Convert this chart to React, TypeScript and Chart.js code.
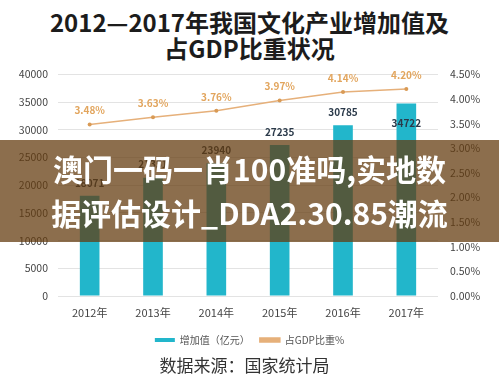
import React, { useEffect, useRef } from "react";
import { Chart, registerables } from "chart.js";

Chart.register(...registerables);

const years = ["2012年", "2013年", "2014年", "2015年", "2016年", "2017年"];
const addedValue = [18071, 21351, 23940, 27235, 30785, 34722];
const gdpShare = [3.48, 3.63, 3.76, 3.97, 4.14, 4.2];
const seriesNames = ["增加值（亿元）", "占GDP比重%"];
const titleLines = ["2012—2017年我国文化产业增加值及", "占GDP比重状况"];
const bannerLines = ["澳门一码一肖100准吗,实地数", "据评估设计_DDA2.30.85潮流"];
const sourceText = "数据来源：国家统计局";

const FONT = '"Noto Sans CJK SC", "Noto Sans", sans-serif';
const BAR_COLOR = "#22b6cb";
const LINE_COLOR = "#e6b07a";
const PCT_COLOR = "#e2a55d";
const VAL_COLOR = "#2b3a4a";

const labelPlugin = {
  id: "valueLabels",
  afterDatasetsDraw(chart: any) {
    const ctx = chart.ctx;
    const barMeta = chart.getDatasetMeta(0);
    const lineMeta = chart.getDatasetMeta(1);
    ctx.save();
    ctx.textAlign = "center";
    ctx.textBaseline = "middle";
    ctx.font = `bold 10px ${FONT}`;
    barMeta.data.forEach((bar: any, i: number) => {
      const ly = lineMeta.data[i].y;
      let y = bar.y - 13;
      if (Math.abs(y - ly) < 12) y = bar.y + 20;
      ctx.fillStyle = VAL_COLOR;
      ctx.fillText(String(addedValue[i]), bar.x, y);
    });
    lineMeta.data.forEach((pt: any, i: number) => {
      ctx.fillStyle = PCT_COLOR;
      ctx.fillText(gdpShare[i].toFixed(2) + "%", pt.x, pt.y - 14);
    });
    ctx.restore();
  },
};

export default function App() {
  const ref = useRef<HTMLCanvasElement>(null);

  useEffect(() => {
    if (!ref.current) return;
    Chart.defaults.font.family = FONT;
    const chart = new Chart(ref.current, {
      type: "bar",
      data: {
        labels: years,
        datasets: [
          {
            type: "bar",
            label: seriesNames[0],
            data: addedValue,
            backgroundColor: BAR_COLOR,
            borderWidth: 0,
            categoryPercentage: 1,
            barPercentage: 0.31,
            yAxisID: "y",
            order: 2,
          },
          {
            type: "line",
            label: seriesNames[1],
            data: gdpShare,
            borderColor: LINE_COLOR,
            backgroundColor: LINE_COLOR,
            borderWidth: 1.5,
            pointRadius: 2,
            pointBackgroundColor: "#d99a55",
            pointBorderWidth: 0,
            yAxisID: "y1",
            order: 1,
          },
        ],
      } as any,
      options: {
        responsive: false,
        animation: false,
        layout: { padding: { top: 6, left: 0, right: 0, bottom: 0 } },
        plugins: {
          tooltip: { enabled: false },
          title: { display: false },
          legend: {
            position: "bottom",
            labels: {
              boxWidth: 20,
              boxHeight: 4,
              padding: 10,
              color: "#555",
              font: { size: 10, family: FONT },
              sort: (a: any, b: any) => a.datasetIndex - b.datasetIndex,
            },
          },
        },
        scales: {
          x: {
            grid: { display: false, drawTicks: false },
            border: { display: false },
            ticks: { color: "#444", font: { size: 11 }, padding: 10 },
            afterFit: (s: any) => {
              s.height = 29;
            },
          },
          y: {
            position: "left",
            min: 0,
            max: 40000,
            ticks: {
              stepSize: 5000,
              color: "#444",
              font: { size: 10.5 },
              padding: 10,
              callback: (v: any) => String(v),
            },
            grid: { color: "#e3e3e3", drawTicks: false },
            border: { display: false },
            afterFit: (s: any) => {
              s.width = 58;
            },
          },
          y1: {
            position: "right",
            min: 0,
            max: 4.5,
            ticks: {
              stepSize: 0.5,
              color: "#444",
              font: { size: 10.5 },
              padding: 12,
              callback: (v: any) => Number(v).toFixed(2) + "%",
            },
            grid: { display: false, drawTicks: false },
            border: { display: false },
            afterFit: (s: any) => {
              s.width = 61;
            },
          },
        },
      } as any,
      plugins: [labelPlugin],
    });
    return () => chart.destroy();
  }, []);

  return (
    <div
      style={{
        position: "fixed",
        left: 0,
        top: 0,
        width: 499,
        height: 382,
        background: "#fff",
        overflow: "hidden",
        fontFamily: FONT,
      }}
    >
      <div
        style={{
          position: "absolute",
          top: 9,
          left: 0,
          width: 499,
          textAlign: "center",
          fontSize: 24,
          fontWeight: 700,
          lineHeight: "26px",
          color: "#1c1c1c",
        }}
      >
        {titleLines.map((t, i) => (
          <div key={i}>{t}</div>
        ))}
      </div>
      <div style={{ position: "absolute", top: 56, left: 0, width: 499, height: 299 }}>
        <canvas ref={ref} width={499} height={299} style={{ width: 499, height: 299, display: "block" }} />
      </div>
      <div
        style={{
          position: "absolute",
          top: 140,
          left: 0,
          width: 499,
          height: 102,
          background: "rgba(100,60,15,0.74)",
          color: "#fff",
          textAlign: "center",
          fontSize: 30,
          fontWeight: 700,
          lineHeight: "44px",
          paddingTop: 6,
          boxSizing: "border-box",
          whiteSpace: "nowrap",
        }}
      >
        {bannerLines.map((t, i) => (
          <div key={i}>{t}</div>
        ))}
      </div>
      <div
        style={{
          position: "absolute",
          top: 354,
          left: 0,
          width: 489,
          textAlign: "center",
          fontSize: 17,
          lineHeight: "22px",
          color: "#333",
        }}
      >
        {sourceText}
      </div>
    </div>
  );
}
